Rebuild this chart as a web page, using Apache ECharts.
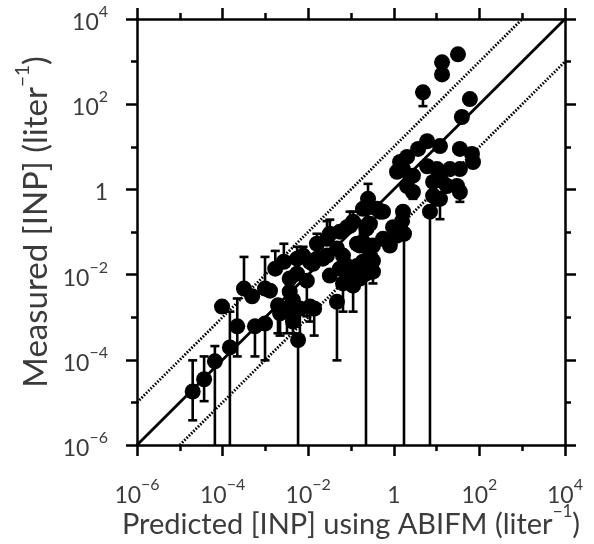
<!DOCTYPE html>
<html><head><meta charset="utf-8">
<script src="https://cdn.jsdelivr.net/npm/echarts@6/dist/echarts.min.js"></script>
<style>html,body{margin:0;padding:0;background:#fff}#c{width:594px;height:544px}</style>
</head><body><div id="c"></div>
<script>
// Predicted [INP] using ABIFM (liter^-1)
const predicted = [
  2.0e-5, 3.7e-5, 6.6e-5, 9.7e-5, 1.48e-4, 2.2e-4, 3.16e-4, 4.9e-4, 5.7e-4, 9.8e-4,
  9.8e-4, 1.7e-3, 2.7e-3, 5.5e-3, 3.7e-3, 6.4e-3, 5.8e-3, 1.38e-2, 1.97e-3, 3.2e-3,
  4.4e-3, 7.6e-3, 1.6e-2, 2.75e-2, 5.5e-2, 0.112, 0.23, 0.326, 1.6e-2, 2.75e-2,
  6.5e-2, 8.1e-2, 0.138, 0.162, 4.7e-2, 6.5e-2, 0.112, 0.224, 0.19, 4.4e-3,
  1.1e-2, 0.25, 0.405, 0.56, 1.64, 1.56, 1.19, 0.81, 1.73, 7.0,
  10.2, 12.0, 12.0, 9.5e-2, 0.162, 0.277, 0.326, 1.64, 2.8, 6.0,
  2.04, 31.6, 13.4, 13.4, 4.8, 60, 39, 6.0, 12.0, 3.7,
  2.04, 1.40, 1.19, 2.4, 35, 67, 71, 35, 20.5, 10.2,
  8.3, 17.5, 30, 35, 2.8, 0.476, 0.56, 8.3, 0.19, 0.19,
  0.277, 4.7e-2, 3.2e-2, 5.5e-2, 9.5e-2, 1.1e-2, 2.2e-2, 3.7e-3,
  3.2e-2, 8.1e-2, 0.277, 0.138, 0.326, 2.2e-3, 4.4e-3, 9.3e-3, 1.28e-3, 5.5e-3,
  1.29e-2, 0.96
];
// Measured [INP] (liter^-1)
const measured = [
  1.8e-5, 3.5e-5, 9.2e-5, 1.78e-3, 1.95e-4, 6.1e-4, 4.7e-3, 3.1e-3, 6.1e-4, 7.1e-4,
  4.7e-3, 1.38e-2, 2.0e-2, 2.37e-2, 4.0e-3, 1.6e-3, 2.9e-4, 1.6e-3, 1.9e-3, 1.6e-3,
  7.9e-4, 2.8e-2, 5.3e-2, 6.9e-2, 0.102, 0.174, 0.12, 4.8e-2, 2.37e-2, 2.8e-2,
  2.8e-2, 1.6e-2, 1.6e-2, 8.1e-3, 2.3e-3, 6.2e-3, 5.5e-3, 1.05e-2, 2.0e-2, 1.6e-3,
  1.78e-3, 0.60, 0.35, 0.30, 0.30, 0.18, 8.2e-2, 4.8e-2, 9.1e-2, 0.30,
  0.60, 1.78, 0.60, 0.14, 4.8e-2, 2.8e-2, 1.17e-2, 3.0, 2.1, 3.5,
  1.2, 1480, 960, 500, 190, 132, 50, 13.5, 10.4, 8.9,
  5.8, 4.4, 2.6, 2.1, 8.9, 6.8, 4.4, 3.0, 3.0, 3.0,
  1.5, 1.2, 1.2, 0.87, 0.87, 0.30, 6.9e-2, 0.71, 5.9e-2, 0.35,
  0.39, 4.1e-2, 9.5e-3, 1.38e-2, 8.1e-3, 2.0e-2, 2.37e-2, 8.1e-3,
  9.1e-2, 0.13, 0.156, 5.3e-2, 2.1e-2, 1.23e-3, 2.5e-3, 7.2e-3, 4.2e-3, 1.05e-2,
  1.8e-2, 0.13
];
// lower / upper ends of the error bars (null = no visible bar on that side)
const errLow = [
  3.8e-6, 1.07e-5, 1e-6, null, 1e-6, 1.2e-4, null, null, 1.2e-4, 9.7e-5,
  null, null, null, null, null, 3.7e-4, 1e-6, 3.7e-4, 4.2e-4, 4.2e-4,
  null, null, null, null, null, null, null, null, null, null,
  null, null, null, null, 9.7e-5, 1.35e-3, 1.35e-3, 1e-6, null, null,
  7.9e-4, null, null, null, null, null, null, null, 1e-6, 1e-6,
  null, null, 0.20, null, null, null, 6.2e-3, null, null, null,
  null, null, null, null, 90, null, null, null, null, null,
  null, null, null, null, null, null, null, null, null, null,
  null, null, null, 0.51, 0.60, null, null, null, null, null,
  null, null, null, null, null, null, null, null,
  null, null, null, null, null, 3.7e-4, 4.2e-4, 1.05e-3, null, null,
  null, null
];
const errHigh = [
  9.7e-5, 1.2e-4, 2.1e-4, null, 1.35e-3, 2.75e-3, 2.6e-2, null, null, null,
  2.6e-2, 3.6e-2, 5.3e-2, 4.5e-2, null, null, null, null, null, null,
  null, 4.5e-2, 9.1e-2, 0.18, null, 0.30, null, null, null, null,
  null, null, null, null, null, null, null, null, null, null,
  null, 1.35, null, null, null, null, null, null, null, null,
  null, null, null, 0.30, 0.174, null, null, null, null, null,
  null, null, null, null, null, null, null, null, null, null,
  null, null, null, null, null, null, null, null, null, null,
  null, null, null, null, null, null, null, null, null, null,
  null, null, null, null, null, null, null, null,
  0.195, null, null, null, null, null, null, null, null, null,
  null, null
];
const axisMin = 1e-6, axisMax = 1e4;
const oneToOne = [[1e-6, 1e-6], [1e4, 1e4]];
const tenTimes = [[1e-6, 1e-5], [1e3, 1e4]];
const oneTenth = [[1e-5, 1e-6], [1e4, 1e3]];
const xTitle = 'Predicted [INP] using ABIFM (liter';
const yTitle = 'Measured [INP] (liter';
const unitSup = '\u22121';

const TXT = '#3b3b3b';
const FONT = 'Lato';
function tickLabel(v) {
  const e = Math.round(Math.log10(v));
  if (e === 0) return '{b|1}';
  return '{b|10}{s|' + (e < 0 ? '\u2212' + (-e) : e) + '}';
}
const rich = {
  b: {fontSize: 23, fontFamily: FONT, color: TXT, lineHeight: 30, verticalAlign: 'bottom'},
  s: {fontSize: 16, fontFamily: FONT, color: TXT, lineHeight: 16, verticalAlign: 'top'}
};
function mkAxis(dim, pos, interval, len, withLabel, withLine, extra) {
  const a = {
    type: 'log', logBase: 10, min: axisMin, max: axisMax, interval: interval,
    position: pos, gridIndex: 0,
    axisLine: {show: withLine, onZero: false, lineStyle: {color: '#000', width: 2.5}},
    axisTick: {show: true, inside: false, length: len, lineStyle: {color: '#000', width: 2.5}},
    axisLabel: withLabel ? {show: true, formatter: tickLabel, rich: rich, margin: dim === 'x' ? 32 : 29} : {show: false},
    splitLine: {show: false}, minorTick: {show: false}, minorSplitLine: {show: false},
    axisPointer: {show: false}
  };
  return Object.assign(a, extra || {});
}
const richNameX = {
  t: {fontSize: 29, fontFamily: FONT, color: TXT, lineHeight: 36, verticalAlign: 'bottom'},
  s: {fontSize: 17, fontFamily: FONT, color: TXT, lineHeight: 18, verticalAlign: 'top'}
};
const richNameY = {
  t: {fontSize: 33, fontFamily: FONT, color: TXT, lineHeight: 40, verticalAlign: 'bottom'},
  s: {fontSize: 19, fontFamily: FONT, color: TXT, lineHeight: 20, verticalAlign: 'top'}
};
const xAxes = [
  mkAxis('x', 'bottom', 1, 6, false, true, {
    name: '{t|' + xTitle + '}{s|' + unitSup + '}{t|)}', nameLocation: 'middle', nameGap: 58,
    nameTextStyle: {rich: richNameX}
  }),
  mkAxis('x', 'bottom', 2, 11, true, false),
  mkAxis('x', 'top', 1, 6, false, true),
  mkAxis('x', 'top', 2, 11, false, false)
];
const yAxes = [
  mkAxis('y', 'left', 1, 6, false, true, {
    name: '{t|' + yTitle + '}{s|' + unitSup + '}{t|)}', nameLocation: 'middle', nameGap: 84,
    nameTextStyle: {rich: richNameY, padding: [0, 0, 0, 20]}
  }),
  mkAxis('y', 'left', 2, 11, true, false),
  mkAxis('y', 'right', 1, 6, false, true),
  mkAxis('y', 'right', 2, 11, false, false)
];

const errData = [];
predicted.forEach((x, i) => {
  if (errLow[i] != null || errHigh[i] != null) {
    errData.push([x, errLow[i] != null ? errLow[i] : measured[i], errHigh[i] != null ? errHigh[i] : measured[i], errLow[i] != null ? 1 : 0, errHigh[i] != null ? 1 : 0]);
  }
});
const pts = predicted.map((x, i) => [x, measured[i]]);

const chart = echarts.init(document.getElementById('c'), null, {renderer: 'canvas'});
const refLine = (data, type, w) => ({
  type: 'line', data: data, xAxisIndex: 0, yAxisIndex: 0, showSymbol: false, symbol: 'none',
  lineStyle: {color: '#000', width: w, type: type}, silent: true, z: 1, animation: false
});
chart.setOption({
  animation: false,
  backgroundColor: '#fff',
  grid: {left: 137, top: 19, width: 428, height: 428, containLabel: false},
  xAxis: xAxes,
  yAxis: yAxes,
  series: [
    refLine(oneToOne, 'solid', 2.8),
    refLine(tenTimes, [1.6, 1.6], 2.8),
    refLine(oneTenth, [1.6, 1.6], 2.8),
    {
      type: 'custom', xAxisIndex: 0, yAxisIndex: 0, data: errData, z: 2,
      encode: {x: 0, y: [1, 2]},
      renderItem: function (params, api) {
        const x = api.value(0), lo = api.value(1), hi = api.value(2);
        const pLo = api.coord([x, lo]), pHi = api.coord([x, hi]);
        const st = {stroke: '#000', lineWidth: 2.6};
        const ch = [{type: 'line', shape: {x1: pLo[0], y1: pLo[1], x2: pHi[0], y2: pHi[1]}, style: st}];
        const hw = 4.5;
        if (api.value(3) && lo > axisMin) ch.push({type: 'line', shape: {x1: pLo[0] - hw, y1: pLo[1], x2: pLo[0] + hw, y2: pLo[1]}, style: st});
        if (api.value(4)) ch.push({type: 'line', shape: {x1: pHi[0] - hw, y1: pHi[1], x2: pHi[0] + hw, y2: pHi[1]}, style: st});
        return {type: 'group', children: ch};
      }
    },
    {
      type: 'scatter', xAxisIndex: 0, yAxisIndex: 0, data: pts, symbol: 'circle', symbolSize: 16,
      itemStyle: {color: '#000', opacity: 1}, z: 3
    }
  ]
});
</script></body></html>
